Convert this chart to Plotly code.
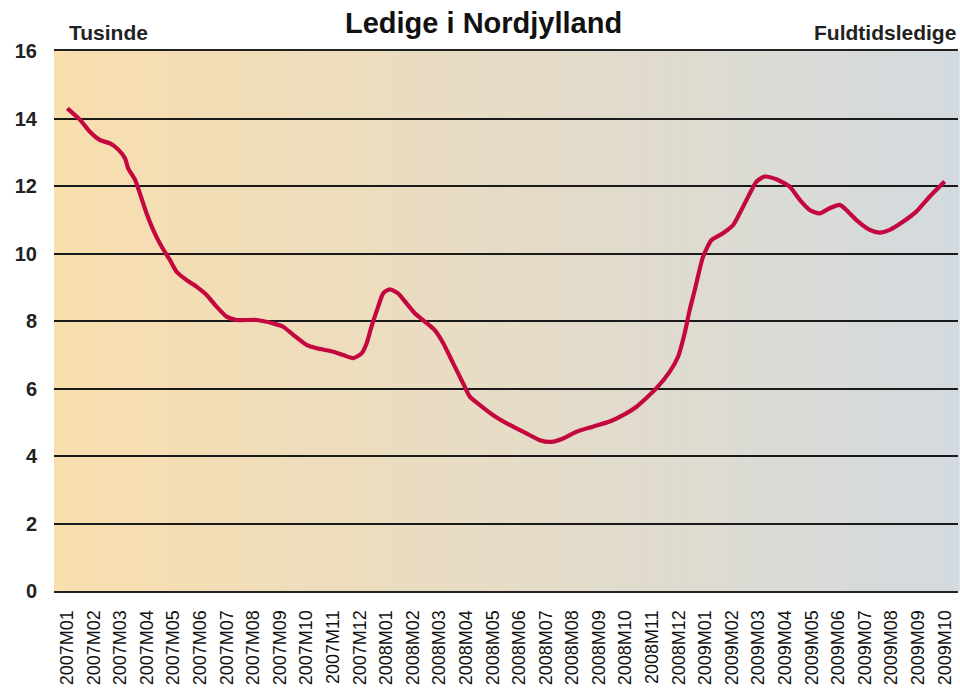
import plotly.graph_objects as go

# Month categories (tick labels)
months = ["2007M01","2007M02","2007M03","2007M04","2007M05","2007M06","2007M07","2007M08",
          "2007M09","2007M10","2007M11","2007M12","2008M01","2008M02","2008M03","2008M04",
          "2008M05","2008M06","2008M07","2008M08","2008M09","2008M10","2008M11","2008M12",
          "2009M01","2009M02","2009M03","2009M04","2009M05","2009M06","2009M07","2009M08",
          "2009M09","2009M10"]

# Position along the month axis (0 = 2007M01) of each observation, and value (thousands)
obs_pos = [0.00, 0.48, 0.85, 1.23, 1.61, 1.93, 2.17, 2.29, 2.55, 2.73, 2.98, 3.23, 3.55, 3.86,
           4.11, 4.49, 4.86, 5.24, 5.62, 5.99, 6.37, 7.12, 7.74, 8.12, 8.50, 9.00, 9.38, 10.00,
           10.38, 10.75, 11.07, 11.26, 11.44, 11.69, 11.88, 12.13, 12.44, 12.76, 13.07, 13.45,
           13.82, 14.14, 14.51, 14.89, 15.14, 15.52, 16.02, 16.64, 17.27, 17.77, 18.21, 18.65,
           19.15, 19.77, 20.40, 20.90, 21.41, 22.16, 22.66, 22.97, 23.22, 23.41, 23.60, 23.91,
           24.23, 24.66, 25.04, 25.29, 25.67, 25.92, 26.23, 26.67, 27.17, 27.55, 27.92, 28.30,
           28.67, 29.05, 29.30, 29.68, 30.18, 30.55, 30.93, 31.43, 31.93, 32.43, 33.00]
ledige = [14.30, 13.96, 13.61, 13.36, 13.26, 13.07, 12.82, 12.52, 12.18, 11.78, 11.19, 10.70,
          10.20, 9.81, 9.46, 9.21, 9.02, 8.77, 8.42, 8.13, 8.03, 8.03, 7.93, 7.83, 7.59, 7.29,
          7.19, 7.09, 6.99, 6.90, 7.04, 7.34, 7.83, 8.42, 8.82, 8.94, 8.82, 8.52, 8.23, 7.98,
          7.73, 7.34, 6.75, 6.15, 5.76, 5.51, 5.21, 4.92, 4.67, 4.47, 4.42, 4.52, 4.72, 4.87,
          5.02, 5.21, 5.46, 6.01, 6.50, 6.94, 7.64, 8.33, 8.92, 9.90, 10.40, 10.60, 10.84,
          11.19, 11.78, 12.13, 12.28, 12.20, 11.98, 11.59, 11.29, 11.19, 11.34, 11.44, 11.29,
          10.99, 10.70, 10.62, 10.70, 10.94, 11.24, 11.68, 12.13]

y_ticks = [0, 2, 4, 6, 8, 10, 12, 14, 16]

FONT = "Liberation Sans, Arial, sans-serif"

fig = go.Figure()
fig.add_trace(go.Scatter(
    x=obs_pos, y=ledige, mode="lines",
    line=dict(color="#C4083F", width=4.2, shape="spline", smoothing=0.6),
    hoverinfo="skip", showlegend=False, cliponaxis=False,
))

# gradient background
left = (249, 222, 174)
right = (211, 218, 223)
n = 120
shapes = []
for i in range(n):
    t = i / (n - 1)
    c = tuple(round(left[k] + (right[k] - left[k]) * t) for k in range(3))
    shapes.append(dict(type="rect", xref="x domain", yref="y domain",
                       x0=i / n, x1=(i + 1) / n + 0.002, y0=0, y1=1,
                       fillcolor="rgb(%d,%d,%d)" % c, line=dict(width=0), layer="below"))

fig.update_layout(
    width=960, height=692,
    margin=dict(l=54, r=2, t=51, b=101, autoexpand=False),
    paper_bgcolor="white", plot_bgcolor="rgba(0,0,0,0)",
    shapes=shapes,
    font=dict(family=FONT, color="#1a1a1a"),
    xaxis=dict(
        range=[-0.5, len(months) - 0.5],
        tickmode="array", tickvals=list(range(len(months))), ticktext=months,
        tickangle=-90, tickfont=dict(size=18, family=FONT, color="#111"),
        showgrid=False, zeroline=False, automargin=False,
        showline=True, linecolor="#222", linewidth=2, mirror=True,
        ticks="outside", ticklen=10, tickcolor="rgba(0,0,0,0)", fixedrange=True,
    ),
    yaxis=dict(
        range=[0, 16], tickvals=y_ticks,
        tickfont=dict(size=20, family=FONT, color="#222", weight="bold"),
        showgrid=True, gridcolor="#1a1a1a", gridwidth=1.5,
        zeroline=False, showline=False, automargin=False,
        ticks="outside", ticklen=12, tickcolor="rgba(0,0,0,0)",
        fixedrange=True,
    ),
    annotations=[
        dict(text="<b>Ledige i Nordjylland</b>", xref="paper", yref="paper",
             x=0.4746, y=1.052, xanchor="center", yanchor="middle", showarrow=False,
             font=dict(size=29, family=FONT, color="#111")),
        dict(text="<b>Tusinde</b>", xref="paper", yref="paper",
             x=0.0144, y=1.034, xanchor="left", yanchor="middle", showarrow=False,
             font=dict(size=21, family=FONT, color="#222")),
        dict(text="<b>Fuldtidsledige</b>", xref="paper", yref="paper",
             x=1.0, y=1.034, xanchor="right", yanchor="middle", showarrow=False,
             font=dict(size=21, family=FONT, color="#222")),
    ],
)

fig.write_html(
    "out.html",
    config={"displayModeBar": False},
    post_script="document.body.style.margin='0';document.body.style.padding='0';"
                "document.documentElement.style.overflow='hidden';",
)
